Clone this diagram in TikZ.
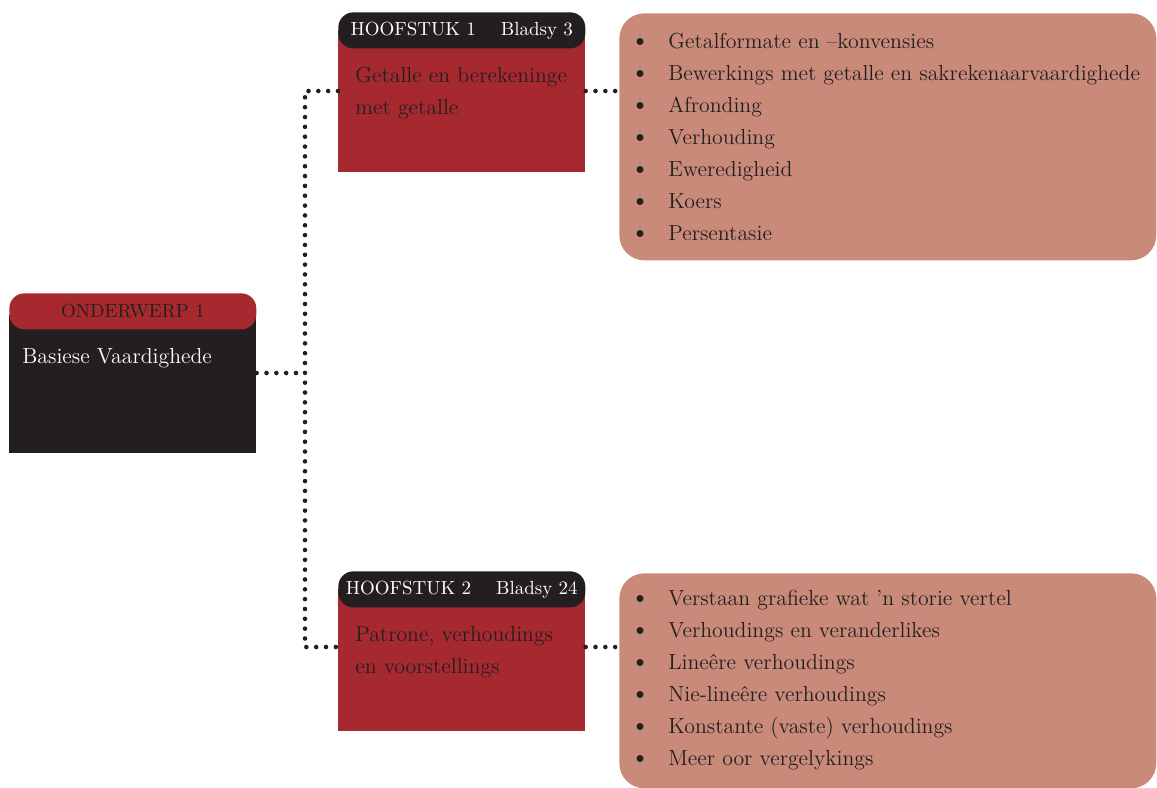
\documentclass[tikz,border=0pt]{standalone}
\usepackage{tikz}
\usetikzlibrary{positioning}
\definecolor{kopred}{HTML}{A6292F}
\definecolor{kopblack}{HTML}{231F20}
\definecolor{lysalmon}{HTML}{C98A79}
\tikzset{
  dotline/.style={draw=kopblack, line width=2.6pt, line cap=round, dash pattern=on 0pt off 5.6pt},
  headbar/.style={anchor=north west, rounded corners=0.3cm, minimum width=4.94cm, minimum height=0.72cm, inner sep=0pt, font=\fontsize{10.8}{13}\selectfont},
  bodybox/.style={anchor=north west, minimum width=4.94cm, inner sep=0pt},
  listbox/.style={anchor=north west, fill=lysalmon, rounded corners=0.5cm, inner sep=0pt},
  boxtext/.style={anchor=base west, inner sep=0pt, font=\fontsize{12.4}{15}\selectfont},
}
% puntlys: name, first baseline, items
\newcommand{\puntlys}[3]{
    \foreach \t [count=\i] in {#3}{
        \node[boxtext, text=kopblack] (#1\i) at (668, #2+32*\i-32) {\t};
        \fill[kopblack] (640, #2+32*\i-38.5) circle (0.07cm);
    }
}

\begin{document}
\begin{tikzpicture}[x=0.02cm, y=-0.02cm]
\useasboundingbox (0,0) rectangle (1157,788);
% onderwerp
\node[bodybox, fill=kopblack, minimum height=2.76cm] (topic) at (9,315) {};
\node[headbar, fill=kopred, text=kopblack] (topichead) at (9,293) {ONDERWERP 1};
\node[boxtext, text=white] (topictitle) at (22,363) {Basiese Vaardighede};
% hoofstukke
\foreach \n/\y/\bl/\ta/\tb in {
    1/12/3/Getalle en berekeninge/met getalle,
    2/571/24/{Patrone, verhoudings}/en voorstellings
}{
    \node[bodybox, fill=kopred, minimum height=2.84cm] (ch\n) at (338,\y+18) {};
    \node[headbar, fill=kopblack, text=white] (ch\n head) at (338,\y) {HOOFSTUK \n\hspace{0.5cm}Bladsy \bl};
    \node[boxtext, text=kopblack] (ch\n t1) at (355,\y+70) {\ta};
    \node[boxtext, text=kopblack] (ch\n t2) at (355,\y+102) {\tb};
}
% lyste
\node[listbox, minimum width=10.74cm, minimum height=4.94cm] (lys1) at (619,13) {};
\node[listbox, minimum width=10.74cm, minimum height=4.3cm] (lys2) at (619,573) {};
\puntlys{lysa}{48}{Getalformate en --konvensies, Bewerkings met getalle en sakrekenaarvaardighede, Afronding, Verhouding, Eweredigheid, Koers, Persentasie}
\puntlys{lysb}{605}{Verstaan grafieke wat ’n storie vertel, Verhoudings en veranderlikes, Lineêre verhoudings, Nie-lineêre verhoudings, Konstante (vaste) verhoudings, Meer oor vergelykings}
% verbindings
\coordinate (j0) at (305,373);
\coordinate (j1) at (305,91);
\coordinate (j2) at (305,647);
\draw[dotline] (topic.east |- j0) -- (j0);
\draw[dotline] (ch1.west |- j1) -- (j1) -- (j2) -- (ch2.west |- j2);
\draw[dotline] (ch1.east |- j1) -- (lys1.west |- j1);
\draw[dotline] (ch2.east |- j2) -- (lys2.west |- j2);
\end{tikzpicture}
\end{document}
